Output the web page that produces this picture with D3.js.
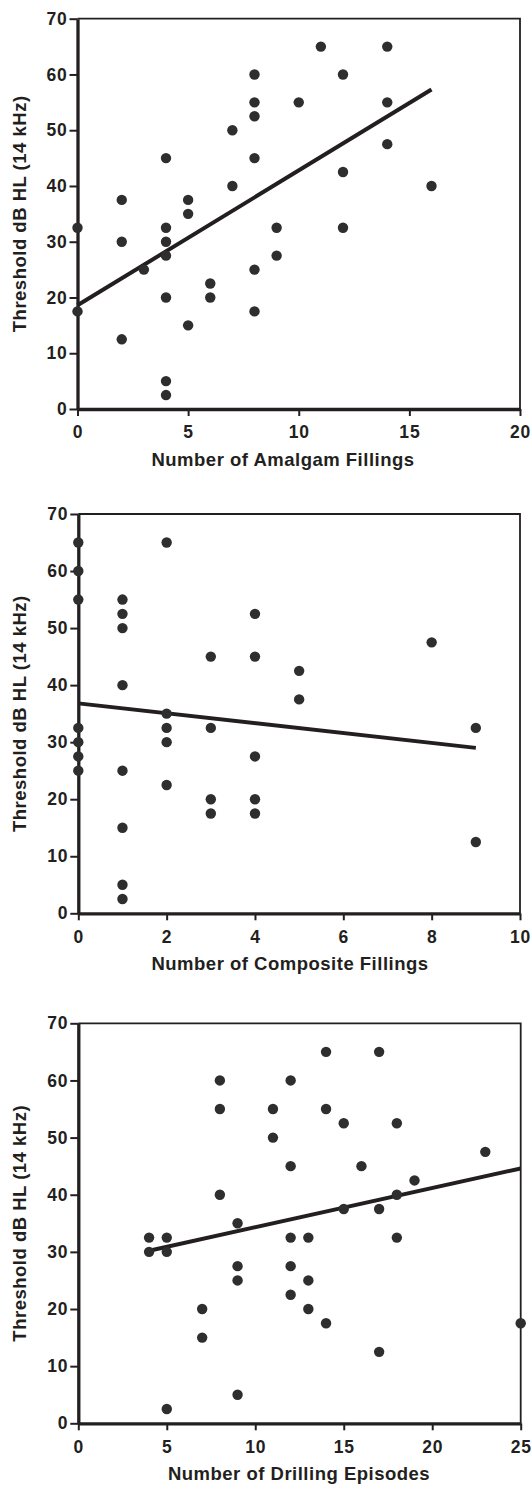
<!DOCTYPE html>
<html>
<head>
<meta charset="utf-8">
<script src="https://cdn.jsdelivr.net/npm/d3@7"></script>
<style>
  body { margin: 0; background: #fff; }
  text { font-family: "Liberation Sans", Arial, sans-serif; font-weight: bold; fill: #231f20; }
</style>
</head>
<body>
<div id="chart"></div>
<script>
// Values
const yTicks = [0, 10, 20, 30, 40, 50, 60, 70]
const yTitle = "Threshold dB HL (14 kHz)"

// Amalgam fillings
const amalgamX = [0, 0, 2, 2, 2, 3, 4, 4, 4, 4, 4, 4, 4, 5, 5, 5, 6, 6, 7, 7, 8, 8, 8, 8, 8, 8, 9, 9, 10, 11, 12, 12, 12, 14, 14, 14, 16]
const amalgamY = [32.5, 17.5, 37.5, 30, 12.5, 25, 45, 32.5, 30, 27.5, 20, 5, 2.5, 37.5, 35, 15, 22.5, 20, 50, 40, 60, 55, 52.5, 45, 25, 17.5, 32.5, 27.5, 55, 65, 60, 42.5, 32.5, 65, 55, 47.5, 40]
const amalgamFit = [[0, 18.6], [16, 57.3]]
const amalgamTicks = [0, 5, 10, 15, 20]

// Composite fillings
const compositeX = [0, 0, 0, 0, 0, 0, 0, 1, 1, 1, 1, 1, 1, 1, 1, 2, 2, 2, 2, 2, 3, 3, 3, 3, 4, 4, 4, 4, 4, 5, 5, 8, 9, 9]
const compositeY = [65, 60, 55, 32.5, 30, 27.5, 25, 55, 52.5, 50, 40, 25, 15, 5, 2.5, 65, 35, 32.5, 30, 22.5, 45, 32.5, 20, 17.5, 52.5, 45, 27.5, 20, 17.5, 42.5, 37.5, 47.5, 32.5, 12.5]
const compositeFit = [[0, 36.8], [9, 29.0]]
const compositeTicks = [0, 2, 4, 6, 8, 10]

// Drilling episodes
const drillingX = [4, 4, 5, 5, 5, 7, 7, 8, 8, 8, 9, 9, 9, 9, 11, 11, 12, 12, 12, 12, 12, 13, 13, 13, 14, 14, 14, 15, 15, 16, 17, 17, 17, 18, 18, 18, 19, 23, 25]
const drillingY = [32.5, 30, 32.5, 30, 2.5, 20, 15, 60, 55, 40, 35, 27.5, 25, 5, 55, 50, 60, 45, 32.5, 27.5, 22.5, 32.5, 25, 20, 65, 55, 17.5, 52.5, 37.5, 45, 65, 37.5, 12.5, 52.5, 40, 32.5, 42.5, 47.5, 17.5]
const drillingFit = [[4, 30.2], [25, 44.6]]
const drillingTicks = [0, 5, 10, 15, 20, 25]

const ink = "#231f20"
const dotInk = "#2e2e2e"

const svg = d3.select("#chart")
  .append("svg")
  .attr("width", 531)
  .attr("height", 1490)

// Panel layout (pixel boxes)
const panels = [
  { xs: amalgamX, ys: amalgamY, fit: amalgamFit, ticks: amalgamTicks, xmax: 20,
    title: "Number of Amalgam Fillings", left: 77.5, right: 520, top: 18.7, bottom: 409, titleX: 283 },
  { xs: compositeX, ys: compositeY, fit: compositeFit, ticks: compositeTicks, xmax: 10,
    title: "Number of Composite Fillings", left: 78.3, right: 520, top: 514, bottom: 913.3, titleX: 290 },
  { xs: drillingX, ys: drillingY, fit: drillingFit, ticks: drillingTicks, xmax: 25,
    title: "Number of Drilling Episodes", left: 78.3, right: 520.7, top: 1023.3, bottom: 1423.3, titleX: 299 }
]

panels.forEach(drawPanel)

function drawPanel(p) {
  const x = d3.scaleLinear().domain([0, p.xmax]).range([p.left, p.right])
  const y = d3.scaleLinear().domain([0, 70]).range([p.bottom, p.top])
  const g = svg.append("g")

  // thin frame on top and right
  g.append("path")
    .attr("d", `M${p.left},${p.top}H${p.right}V${p.bottom}`)
    .attr("fill", "none")
    .attr("stroke", ink)
    .attr("stroke-width", 1.8)

  // x axis
  const gx = g.append("g")
    .attr("transform", `translate(0,${p.bottom})`)
    .call(d3.axisBottom(x).tickValues(p.ticks).tickSize(7).tickPadding(10).tickSizeOuter(0))
  // y axis
  const gy = g.append("g")
    .attr("transform", `translate(${p.left},0)`)
    .call(d3.axisLeft(y).tickValues(yTicks).tickSize(8).tickPadding(2).tickSizeOuter(0))

  ;[gx, gy].forEach(a => {
    a.select(".domain").attr("stroke", ink).attr("stroke-width", 3.3)
    a.selectAll(".tick line").attr("stroke", ink).attr("stroke-width", 2)
    a.selectAll(".tick text")
      .attr("fill", ink)
      .style("font-size", "17.5px")
      .style("letter-spacing", "0.8px")
      .style("font-family", '"Liberation Sans", Arial, sans-serif')
      .style("font-weight", "bold")
  })

  // axis titles
  g.append("text")
    .attr("x", p.titleX)
    .attr("y", p.bottom + 57)
    .attr("text-anchor", "middle")
    .style("font-size", "18.5px")
    .style("letter-spacing", "0.5px")
    .text(p.title)

  g.append("text")
    .attr("transform", `translate(26,${(p.top + p.bottom) / 2}) rotate(-90)`)
    .attr("text-anchor", "middle")
    .style("font-size", "18.5px")
    .style("letter-spacing", "0.5px")
    .text(yTitle)

  // regression line
  g.append("path")
    .datum(p.fit)
    .attr("d", d3.line().x(d => x(d[0])).y(d => y(d[1])))
    .attr("stroke", ink)
    .attr("stroke-width", 4)
    .attr("fill", "none")

  // points
  g.selectAll("circle")
    .data(d3.range(p.xs.length))
    .join("circle")
    .attr("cx", i => x(p.xs[i]))
    .attr("cy", i => y(p.ys[i]))
    .attr("r", 5.2)
    .attr("fill", dotInk)
}
</script>
</body>
</html>
